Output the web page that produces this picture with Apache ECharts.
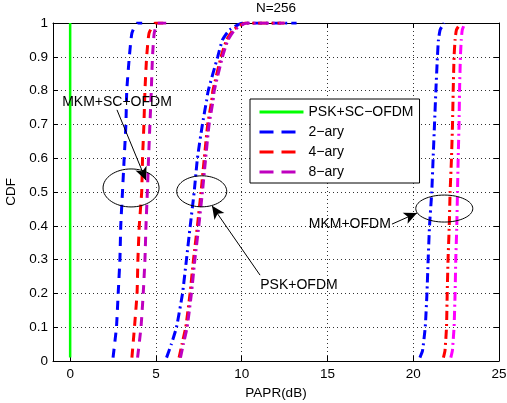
<!DOCTYPE html>
<html><head><meta charset="utf-8">
<script src="https://cdn.jsdelivr.net/npm/echarts@6/dist/echarts.min.js"></script>
<style>html,body{margin:0;padding:0;background:#fff}#c{width:507px;height:403px}</style>
</head><body><div id="c"></div>
<script>
// ---- data ----
const xTicks = [0, 5, 10, 15, 20, 25];
const legendNames = ['PSK+SC\u2212OFDM', '2\u2212ary', '4\u2212ary', '8\u2212ary'];

// PSK+SC-OFDM (vertical line at 0 dB)
const pskScX = [0, 0];
const pskScY = [0.01, 1];

// MKM+SC-OFDM group
const g1Y     = [0.01, 0.1, 0.2, 0.3, 0.4, 0.5, 0.6, 0.7, 0.8, 0.9, 0.97, 1, 1];
const g1Blue  = [2.5, 2.7, 2.8, 2.9, 2.95, 3.05, 3.15, 3.25, 3.3, 3.45, 3.6, 3.9, 4.2];
const g1Red   = [3.6, 3.75, 3.9, 3.95, 4.03, 4.17, 4.22, 4.3, 4.36, 4.46, 4.6, 4.95, 5.6];
const g1Mag   = [3.93, 4.13, 4.26, 4.36, 4.42, 4.5, 4.57, 4.65, 4.73, 4.8, 4.9, 5.1, 5.6];

// PSK+OFDM group
const g2Y     = [0.01, 0.05, 0.1, 0.2, 0.3, 0.4, 0.5, 0.6, 0.7, 0.77, 0.8, 0.9, 0.95, 0.98, 1, 1];
const g2Blue  = [5.62, 5.9, 6.2, 6.55, 6.78, 7.0, 7.23, 7.42, 7.71, 7.95, 8.05, 8.6, 8.88, 9.3, 10.06, 13.2];
const g2Red   = [6.35, 6.52, 6.74, 6.99, 7.19, 7.42, 7.63, 7.82, 8.02, 8.25, 8.32, 8.8, 9.12, 9.52, 10.2, 12.5];
const g2Mag   = [6.43, 6.6, 6.82, 7.07, 7.27, 7.5, 7.71, 7.9, 8.1, 8.33, 8.4, 8.88, 9.2, 9.6, 10.27, 12.5];

// MKM+OFDM group
const g3Y     = [0.01, 0.03, 0.1, 0.2, 0.3, 0.4, 0.5, 0.6, 0.7, 0.8, 0.9, 0.95, 0.98, 1];
const g3Blue  = [20.39, 20.54, 20.7, 20.8, 20.87, 20.95, 21.08, 21.16, 21.24, 21.32, 21.41, 21.47, 21.57, 21.8];
const g3Red   = [21.76, 21.85, 21.94, 21.98, 22.03, 22.1, 22.15, 22.23, 22.29, 22.33, 22.38, 22.44, 22.52, 22.77];
const g3Mag   = [22.19, 22.28, 22.38, 22.44, 22.48, 22.54, 22.58, 22.62, 22.67, 22.7, 22.75, 22.8, 22.86, 23.02];

// annotations (data coords)
const annTexts = [
  ['MKM+SC+OFDM', 2.73, 0.766],
  ['PSK+OFDM', 13.34, 0.225],
  ['MKM+OFDM', 16.3, 0.404]
];
const annArrows = [
  [2.73, 0.743, 4.42, 0.535],
  [11.07, 0.254, 8.27, 0.459],
  [18.76, 0.405, 20.22, 0.438]
];
const annEllipses = [
  [3.55, 0.512, 28, 19],
  [7.67, 0.502, 25, 15.5],
  [21.81, 0.451, 28.5, 13.5]
];

// ---- chart ----
const FONT = '"Liberation Sans", Arial, Helvetica, sans-serif';
const DASH = [9, 7];
const DASHDOT = [9, 4, 2, 4];
const LEGDASH = [14, 8];
function zip(xs, ys) { return xs.map((x, i) => [x, ys[i]]); }
function ln(name, color, xs, ys, type, width) {
  return {
    type: 'line', name: name, data: zip(xs, ys), symbol: 'none', showSymbol: false,
    smooth: 0.15, animation: false,
    lineStyle: { color: color, width: width || 3, type: type },
    itemStyle: { color: color }
  };
}
const BLUE = '#0000ff', RED = '#ff0000', PURP = '#bf00bf', MAG = '#ff00ff', GREEN = '#00ff00';

const axisCommon = {
  type: 'value', min: -1, max: 25,
  axisLine: { onZero: false, lineStyle: { color: '#000', width: 1 } },
  axisTick: { inside: true, length: 5, customValues: xTicks, lineStyle: { color: '#000' } }
};

const chart = echarts.init(document.getElementById('c'), null, { renderer: 'canvas' });
chart.setOption({
  animation: false,
  backgroundColor: '#fff',
  title: {
    text: 'N=256', left: 276, top: 1, padding: 0, textAlign: 'center',
    textStyle: { fontSize: 13.5, fontWeight: 'normal', color: '#000', fontFamily: FONT }
  },
  grid: { left: 53, right: 8, top: 23, bottom: 42, containLabel: false, outerBoundsMode: 'none' },
  legend: {
    data: legendNames.map((n, i) => ({
      name: n,
      itemStyle: { opacity: 0 },
      lineStyle: { type: i === 0 ? 'solid' : LEGDASH, width: 3 }
    })),
    orient: 'vertical', left: 250, top: 99,
    itemWidth: 44, itemHeight: 14, itemGap: 6,
    padding: [6, 6, 4, 8],
    itemStyle: { opacity: 0 },
    borderColor: '#000', borderWidth: 1, backgroundColor: '#fff',
    textStyle: { fontSize: 14, color: '#000', fontFamily: FONT },
    selectedMode: false, z: 20
  },
  xAxis: [
    Object.assign({}, axisCommon, {
      position: 'bottom',
      axisLabel: { customValues: xTicks, color: '#000', fontSize: 13.5, margin: 6, fontFamily: FONT },
      splitLine: { show: true, lineStyle: { color: '#333', type: [1, 3], width: 1 } },
      name: 'PAPR(dB)', nameLocation: 'middle', nameGap: 20,
      nameTextStyle: { fontSize: 13.5, color: '#000', fontFamily: FONT }
    }),
    Object.assign({}, axisCommon, {
      position: 'top',
      axisLabel: { show: false },
      splitLine: { show: false }
    })
  ],
  yAxis: [
    {
      type: 'value', min: 0, max: 1, interval: 0.1, position: 'left',
      axisLine: { onZero: false, lineStyle: { color: '#000', width: 1 } },
      axisTick: { inside: true, length: 5, lineStyle: { color: '#000' } },
      axisLabel: { color: '#000', fontSize: 13.5, margin: 5, fontFamily: FONT,
        formatter: v => String(+v.toFixed(1)) },
      splitLine: { show: true, lineStyle: { color: '#333', type: [1, 3], width: 1 } },
      name: 'CDF', nameLocation: 'middle', nameGap: 24,
      nameTextStyle: { fontSize: 13.5, color: '#000', fontFamily: FONT }
    },
    {
      type: 'value', min: 0, max: 1, interval: 0.1, position: 'right',
      axisLine: { show: true, onZero: false, lineStyle: { color: '#000', width: 1 } },
      axisTick: { inside: true, length: 5, lineStyle: { color: '#000' } },
      axisLabel: { show: false },
      splitLine: { show: false }
    }
  ],
  series: [
    ln(legendNames[0], GREEN, pskScX, pskScY, 'solid', 2.5),
    ln(legendNames[1], BLUE, g1Blue, g1Y, DASH),
    ln(legendNames[2], RED, g1Red, g1Y, DASH),
    ln(legendNames[3], PURP, g1Mag, g1Y, DASH),
    ln(legendNames[1], BLUE, g2Blue, g2Y, DASHDOT),
    ln(legendNames[2], RED, g2Red, g2Y, DASHDOT),
    ln(legendNames[3], PURP, g2Mag, g2Y, DASHDOT),
    ln(legendNames[1], BLUE, g3Blue, g3Y, DASHDOT),
    ln(legendNames[2], RED, g3Red, g3Y, DASHDOT),
    ln(legendNames[3], MAG, g3Mag, g3Y, DASHDOT),
    {
      type: 'line', name: 'arrows', data: [], symbol: 'none', z: 30,
      markLine: {
        silent: true, animation: false, symbol: ['none', 'arrow'], symbolSize: [9, 13],
        label: { show: false },
        lineStyle: { color: '#000', width: 1, type: 'solid' },
        emphasis: { disabled: true },
        data: annArrows.map(a => [{ coord: [a[0], a[1]] }, { coord: [a[2], a[3]] }])
      }
    }
  ]
});

const gfx = [];
annEllipses.forEach(e => {
  const p = chart.convertToPixel({ gridIndex: 0 }, [e[0], e[1]]);
  gfx.push({ type: 'ellipse', shape: { cx: p[0], cy: p[1], rx: e[2], ry: e[3] },
    style: { fill: 'none', stroke: '#000', lineWidth: 1 }, z: 40, silent: true });
});
annTexts.forEach(t => {
  const p = chart.convertToPixel({ gridIndex: 0 }, [t[1], t[2]]);
  gfx.push({ type: 'text', x: p[0], y: p[1], z: 40, silent: true,
    style: { text: t[0], fill: '#000', font: '14px ' + FONT,
      textAlign: 'center', textVerticalAlign: 'middle', align: 'center', verticalAlign: 'middle' } });
});
chart.setOption({ graphic: gfx });
</script>
</body></html>
